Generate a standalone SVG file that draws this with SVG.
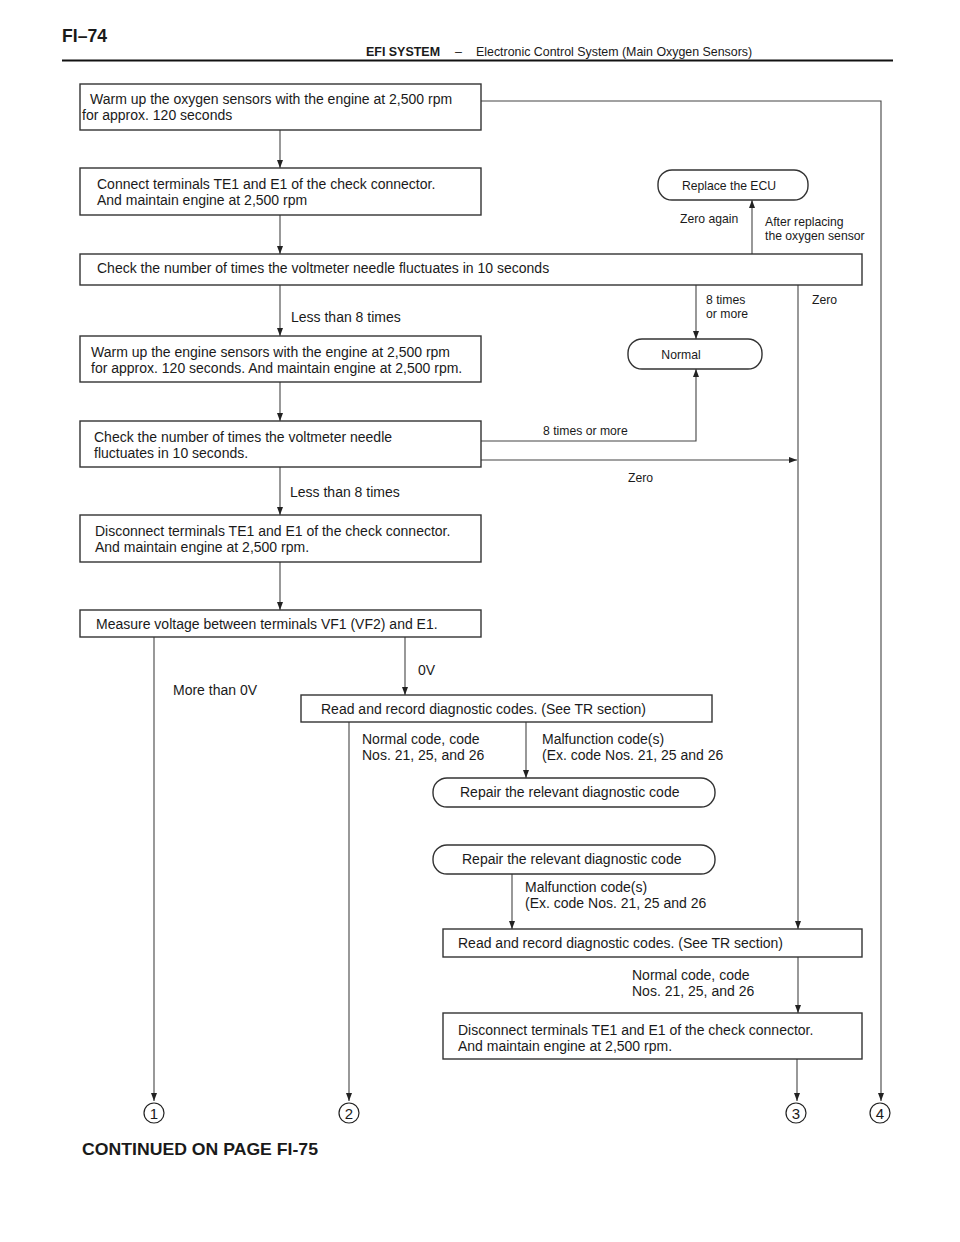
<svg xmlns="http://www.w3.org/2000/svg" width="960" height="1242" viewBox="0 0 960 1242">
<style>
text{font-family:"Liberation Sans",Arial,sans-serif;fill:#1a1a1a}
.t{font-size:14px}
.s{font-size:12.2px}
.box{fill:#fff;stroke:#333;stroke-width:1.4}
.ln{fill:none;stroke:#444;stroke-width:1.1}
.c{fill:#fff;stroke:#222;stroke-width:1.2}
.n{font-size:15px;text-anchor:middle}
</style>
<defs>
<marker id="a" viewBox="0 0 8 8" refX="8" refY="4" markerWidth="8" markerHeight="8" markerUnits="userSpaceOnUse" orient="auto">
<path d="M0,1 L8,4 L0,7 Z" fill="#222"/>
</marker>
</defs>
<rect width="960" height="1242" fill="#fff"/>
<g id="header">
<text x="62" y="42" style="font-size:19px;font-weight:bold" textLength="45" lengthAdjust="spacingAndGlyphs">FI–74</text>
<text x="366" y="56" style="font-size:12.4px;font-weight:bold" textLength="74" lengthAdjust="spacingAndGlyphs">EFI SYSTEM</text>
<text x="455" y="56" style="font-size:12.4px">–</text>
<text x="476" y="56" style="font-size:12.4px">Electronic Control System (Main Oxygen Sensors)</text>
<line x1="62" y1="60.5" x2="893" y2="60.5" stroke="#111" stroke-width="2"/>
</g>
<g id="connectors">
<path class="ln" d="M481,101 H881 V1101" marker-end="url(#a)"/>
<path class="ln" d="M280,130 V168" marker-end="url(#a)"/>
<path class="ln" d="M280,215 V254" marker-end="url(#a)"/>
<path class="ln" d="M752,254 V200" marker-end="url(#a)"/>
<path class="ln" d="M696,285 V339" marker-end="url(#a)"/>
<path class="ln" d="M798,285 V929" marker-end="url(#a)"/>
<path class="ln" d="M280,285 V336" marker-end="url(#a)"/>
<path class="ln" d="M280,382 V421" marker-end="url(#a)"/>
<path class="ln" d="M481,441 H696 V369" marker-end="url(#a)"/>
<path class="ln" d="M481,460 H797" marker-end="url(#a)"/>
<path class="ln" d="M280,467 V515" marker-end="url(#a)"/>
<path class="ln" d="M280,562 V610" marker-end="url(#a)"/>
<path class="ln" d="M154,637 V1101" marker-end="url(#a)"/>
<path class="ln" d="M405,637 V695" marker-end="url(#a)"/>
<path class="ln" d="M349,722 V1101" marker-end="url(#a)"/>
<path class="ln" d="M526,722 V778" marker-end="url(#a)"/>
<path class="ln" d="M512,874 V929" marker-end="url(#a)"/>
<path class="ln" d="M798,957 V1013" marker-end="url(#a)"/>
<path class="ln" d="M797,1059 V1101" marker-end="url(#a)"/>
<text class="s" x="680" y="223">Zero again</text>
<text class="s" x="765" y="226">After replacing</text>
<text class="s" x="765" y="240">the oxygen sensor</text>
<text class="s" x="706" y="304">8 times</text>
<text class="s" x="706" y="318">or more</text>
<text class="s" x="812" y="304">Zero</text>
<text class="t" x="291" y="322">Less than 8 times</text>
<text class="s" x="543" y="435">8 times or more</text>
<text class="s" x="628" y="482">Zero</text>
<text class="t" x="290" y="497">Less than 8 times</text>
<text class="t" x="418" y="675">0V</text>
<text class="t" x="173" y="695">More than 0V</text>
<text class="t" x="362" y="744">Normal code, code</text>
<text class="t" x="362" y="760">Nos. 21, 25, and 26</text>
<text class="t" x="542" y="744">Malfunction code(s)</text>
<text class="t" x="542" y="760">(Ex. code Nos. 21, 25 and 26</text>
<text class="t" x="525" y="892">Malfunction code(s)</text>
<text class="t" x="525" y="908">(Ex. code Nos. 21, 25 and 26</text>
<text class="t" x="632" y="980">Normal code, code</text>
<text class="t" x="632" y="996">Nos. 21, 25, and 26</text>
</g>
<g id="n1"><rect class="box" x="80" y="84" width="401" height="46"/>
<text class="t" x="90" y="104">Warm up the oxygen sensors with the engine at 2,500 rpm</text>
<text class="t" x="82" y="120">for approx. 120 seconds</text></g>
<g id="n2"><rect class="box" x="80" y="168" width="401" height="47"/>
<text class="t" x="97" y="189">Connect terminals TE1 and E1 of the check connector.</text>
<text class="t" x="97" y="205">And maintain engine at 2,500 rpm</text></g>
<g id="n3"><rect class="box" x="80" y="254" width="782" height="31"/>
<text class="t" x="97" y="273">Check the number of times the voltmeter needle fluctuates in 10 seconds</text></g>
<g id="n_ecu"><rect class="box" x="658" y="170" width="150" height="30" rx="14"/>
<text class="s" x="729" y="190" text-anchor="middle">Replace the ECU</text></g>
<g id="n_normal"><rect class="box" x="628" y="339" width="134" height="30" rx="14"/>
<text class="s" x="681" y="359" text-anchor="middle">Normal</text></g>
<g id="n4"><rect class="box" x="80" y="336" width="401" height="46"/>
<text class="t" x="91" y="357">Warm up the engine sensors with the engine at 2,500 rpm</text>
<text class="t" x="91" y="373">for approx. 120 seconds. And maintain engine at 2,500 rpm.</text></g>
<g id="n5"><rect class="box" x="80" y="421" width="401" height="46"/>
<text class="t" x="94" y="442">Check the number of times the voltmeter needle</text>
<text class="t" x="94" y="458">fluctuates in 10 seconds.</text></g>
<g id="n6"><rect class="box" x="80" y="515" width="401" height="47"/>
<text class="t" x="95" y="536">Disconnect terminals TE1 and E1 of the check connector.</text>
<text class="t" x="95" y="552">And maintain engine at 2,500 rpm.</text></g>
<g id="n7"><rect class="box" x="80" y="610" width="401" height="27"/>
<text class="t" x="96" y="629">Measure voltage between terminals VF1 (VF2) and E1.</text></g>
<g id="n8"><rect class="box" x="301" y="695" width="411" height="27"/>
<text class="t" x="321" y="714">Read and record diagnostic codes. (See TR section)</text></g>
<g id="n9"><rect class="box" x="433" y="778" width="282" height="29" rx="14"/>
<text class="t" x="460" y="797">Repair the relevant diagnostic code</text></g>
<g id="n10"><rect class="box" x="433" y="845" width="282" height="29" rx="14"/>
<text class="t" x="462" y="864">Repair the relevant diagnostic code</text></g>
<g id="n11"><rect class="box" x="443" y="929" width="419" height="28"/>
<text class="t" x="458" y="948">Read and record diagnostic codes. (See TR section)</text></g>
<g id="n12"><rect class="box" x="443" y="1013" width="419" height="46"/>
<text class="t" x="458" y="1035">Disconnect terminals TE1 and E1 of the check connector.</text>
<text class="t" x="458" y="1051">And maintain engine at 2,500 rpm.</text></g>
<g id="c1"><circle class="c" cx="154" cy="1113" r="10"/><text class="n" x="154" y="1119">1</text></g>
<g id="c2"><circle class="c" cx="349" cy="1113" r="10"/><text class="n" x="349" y="1119">2</text></g>
<g id="c3"><circle class="c" cx="796" cy="1113" r="10"/><text class="n" x="796" y="1119">3</text></g>
<g id="c4"><circle class="c" cx="880" cy="1113" r="10"/><text class="n" x="880" y="1119">4</text></g>
<g id="footer"><text x="82" y="1155" style="font-size:16.5px;font-weight:bold" textLength="236" lengthAdjust="spacingAndGlyphs">CONTINUED ON PAGE FI-75</text></g>
</svg>
